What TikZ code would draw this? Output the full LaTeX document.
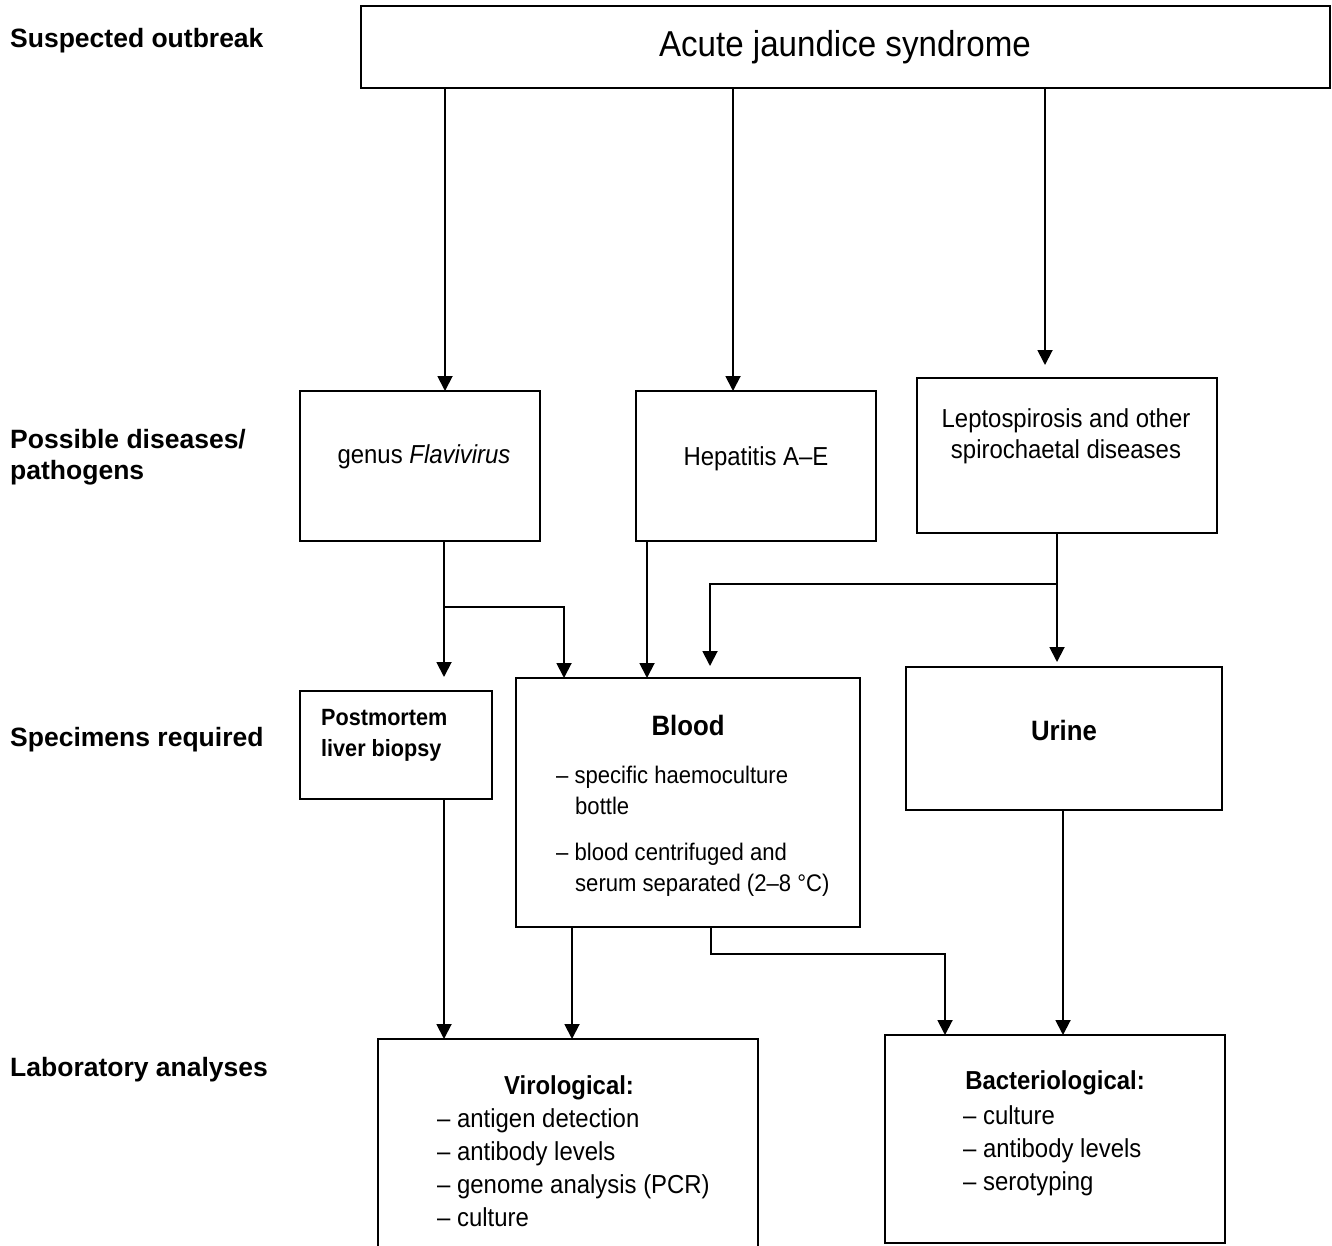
\documentclass[tikz,border=0pt]{standalone}
\usepackage{fontspec}
\setmainfont{Liberation Sans}
\newfontfamily\nar[FakeStretch=0.92]{Liberation Sans}
\usetikzlibrary{arrows.meta}
\begin{document}
\begin{tikzpicture}[x=1pt,y=-1pt,
  box/.style={draw, line width=1.9pt, inner sep=0pt, outer sep=0pt, anchor=north west},
  frame/.style={inner sep=0pt, outer sep=0pt, anchor=north west},
  ln/.style={line width=1.9pt},
  arr/.style={line width=1.9pt, -{Triangle[width=15pt,length=15pt]}},
  lab/.style={anchor=base west, inner sep=0pt, font=\fontsize{26.5}{30}\selectfont\bfseries},
  txt/.style={anchor=base, inner sep=0pt, font=\nar\fontsize{26}{30}\selectfont},
  txtl/.style={anchor=base west, inner sep=0pt, font=\nar\fontsize{26}{30}\selectfont},
  bld/.style={anchor=base, inner sep=0pt, font=\nar\fontsize{28}{30}\selectfont\bfseries},
  sml/.style={anchor=base west, inner sep=0pt, font=\nar\fontsize{24}{28}\selectfont},
]
\useasboundingbox (0,0) rectangle (1332,1245);
\fill[white] (0,0) rectangle (1332,1245);

% row labels
\node[lab] (l1) at (10,47) {Suspected outbreak};
\node[lab] (l2a) at (10,448) {Possible diseases/};
\node[lab] (l2b) at (10,479) {pathogens};
\node[lab] (l3) at (10,746) {Specimens required};
\node[lab] (l4) at (10,1076) {Laboratory analyses};

% boxes
\node[box, minimum width=969pt, minimum height=82pt] (top) at (361,6) {};
\node[box, minimum width=240pt, minimum height=150pt] (flavi) at (300,391) {};
\node[box, minimum width=240pt, minimum height=150pt] (hep) at (636,391) {};
\node[box, minimum width=300pt, minimum height=155pt] (lepto) at (917,378) {};
\node[box, minimum width=192pt, minimum height=108pt] (pm) at (300,691) {};
\node[box, minimum width=344pt, minimum height=249pt] (blood) at (516,678) {};
\node[box, minimum width=316pt, minimum height=143pt] (urine) at (906,667) {};
\node[frame, minimum width=380pt, minimum height=225pt] (viro) at (378,1039) {};
\draw[ln] (viro.south west) -- (viro.north west) -- (viro.north east) -- (viro.south east);
\node[box, minimum width=340pt, minimum height=208pt] (bact) at (885,1035) {};

% texts
\node[anchor=base, inner sep=0pt, font=\nar\fontsize{36}{40}\selectfont] (ttop) at (845,56) {Acute jaundice syndrome};
\node[txt] (tflavi) at (424,463) {genus \textit{Flavivirus}};
\node[txt] (thep) at (756,465) {Hepatitis A–E};
\node[txt] (tlep1) at (1066,427) {Leptospirosis and other};
\node[txt] (tlep2) at (1066,458) {spirochaetal diseases};
\node[anchor=base west, inner sep=0pt, font=\nar\fontsize{23.5}{28}\selectfont\bfseries] (tpm1) at (321,725) {Postmortem};
\node[anchor=base west, inner sep=0pt, font=\nar\fontsize{23.5}{28}\selectfont\bfseries] (tpm2) at (321,756) {liver biopsy};
\node[bld] (tblood) at (688,735) {Blood};
\node[sml] (tb1) at (556,783) {– specific haemoculture};
\node[sml] (tb2) at (575,814) {bottle};
\node[sml] (tb3) at (556,860) {– blood centrifuged and};
\node[sml] (tb4) at (575,891) {serum separated (2–8 °C)};
\node[bld] (turine) at (1064,740) {Urine};
\node[anchor=base, inner sep=0pt, font=\nar\fontsize{26}{30}\selectfont\bfseries] (tviro) at (569,1094) {Virological:};
\node[txtl] (tv1) at (437,1127) {– antigen detection};
\node[txtl] (tv2) at (437,1160) {– antibody levels};
\node[txtl] (tv3) at (437,1193) {– genome analysis (PCR)};
\node[txtl] (tv4) at (437,1226) {– culture};
\node[anchor=base, inner sep=0pt, font=\nar\fontsize{26}{30}\selectfont\bfseries] (tbact) at (1055,1089) {Bacteriological:};
\node[txtl] (tc1) at (963,1124) {– culture};
\node[txtl] (tc2) at (963,1157) {– antibody levels};
\node[txtl] (tc3) at (963,1190) {– serotyping};

% junction / end coordinates
\coordinate (lt) at (1045,365);
\coordinate (pmin) at (444,677);
\coordinate (j1) at (444,607);
\coordinate (j2) at (1057,584);
\coordinate (bl2) at (710,666);
\coordinate (urin) at (1057,662);
\coordinate (j3) at (945,954);

% connectors
\draw[arr] (top.south -| 445,0) -- (flavi.north -| 445,0);
\draw[arr] (top.south -| 733,0) -- (hep.north -| 733,0);
\draw[arr] (top.south -| lt) -- (lt);
\draw[arr] (flavi.south -| pmin) -- (pmin);
\draw[arr] (j1) -| (blood.north -| 564,0);
\draw[arr] (hep.south -| 647,0) -- (blood.north -| 647,0);
\draw[arr] (lepto.south -| urin) -- (urin);
\draw[arr] (j2) -| (bl2);
\draw[arr] (pm.south -| 444,0) -- (viro.north -| 444,0);
\draw[arr] (blood.south -| 572,0) -- (viro.north -| 572,0);
\draw[arr] (blood.south -| 711,0) |- (j3) -- (bact.north -| j3);
\draw[arr] (urine.south -| 1063,0) -- (bact.north -| 1063,0);
\end{tikzpicture}
\end{document}
